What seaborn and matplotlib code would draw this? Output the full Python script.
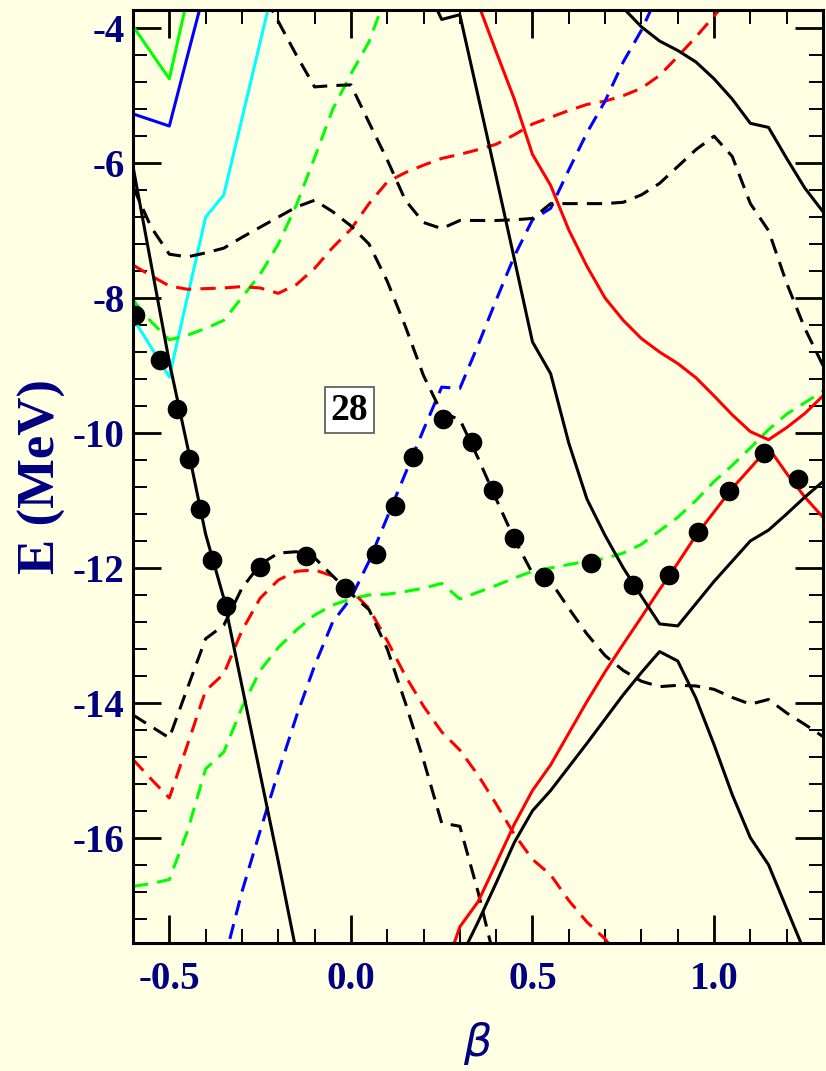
import matplotlib
matplotlib.use("Agg")
import matplotlib.pyplot as plt
import seaborn as sns
from matplotlib.ticker import MultipleLocator

# ---------------- data (beta, E in MeV) ----------------
# black solid curves
bs1_b = [-0.6, -0.55, -0.5, -0.45, -0.4, -0.35, -0.3, -0.25, -0.2, -0.15]
bs1_E = [-6.05, -7.5, -8.95, -10.2, -11.5, -12.45, -13.75, -15.05, -16.35, -17.7]

bs2_b = [0.2, 0.25, 0.3, 0.35, 0.4, 0.45, 0.5, 0.55, 0.6, 0.65, 0.7, 0.75, 0.8,
         0.85, 0.9, 0.95, 1.0, 1.05, 1.1, 1.15, 1.2, 1.25, 1.3]
bs2_E = [-3.3, -3.87, -3.8, -5.0, -6.2, -7.42, -8.65, -9.12, -10.15, -10.98, -11.52,
         -12.0, -12.42, -12.83, -12.86, -12.53, -12.2, -11.9, -11.6, -11.44, -11.2,
         -10.95, -10.72]

bs3_b = [0.7, 0.75, 0.8, 0.85, 0.9, 0.95, 1.0, 1.05, 1.1, 1.15, 1.2, 1.25, 1.3]
bs3_E = [-3.35, -3.7, -3.98, -4.19, -4.33, -4.5, -4.75, -5.05, -5.41, -5.47, -5.93,
         -6.37, -6.72]

bs4_b = [0.3, 0.35, 0.4, 0.45, 0.5, 0.55, 0.6, 0.65, 0.7, 0.75, 0.8, 0.85, 0.9,
         0.95, 1.0, 1.05, 1.1, 1.15, 1.2, 1.25]
bs4_E = [-17.8, -17.25, -16.67, -16.07, -15.6, -15.3, -14.95, -14.6, -14.24, -13.88,
         -13.55, -13.24, -13.38, -13.93, -14.62, -15.36, -16.0, -16.4, -17.05, -17.7]

# black dashed curves
bd1_b = [-0.25, -0.2, -0.15, -0.1, -0.05, 0.0, 0.05, 0.1, 0.15, 0.2, 0.25, 0.3, 0.35,
         0.4, 0.45, 0.5, 0.55, 0.6, 0.65, 0.7, 0.75, 0.8, 0.85, 0.9, 0.95, 1.0, 1.05,
         1.1, 1.15, 1.2, 1.25, 1.3]
bd1_E = [-3.4, -3.9, -4.4, -4.87, -4.85, -4.84, -5.4, -5.95, -6.55, -6.88, -6.97,
         -6.85, -6.85, -6.85, -6.84, -6.82, -6.6, -6.6, -6.6, -6.6, -6.58, -6.47, -6.3,
         -6.05, -5.8, -5.6, -5.9, -6.6, -7.0, -7.78, -8.45, -9.0]

bd2_b = [-0.6, -0.55, -0.5, -0.45, -0.4, -0.35, -0.3, -0.25, -0.2, -0.15, -0.1, -0.05,
         0.0, 0.05, 0.1, 0.15, 0.2, 0.25, 0.3, 0.35, 0.4, 0.45, 0.5, 0.55, 0.6, 0.65,
         0.7, 0.75, 0.8, 0.85, 0.9, 0.95, 1.0, 1.05, 1.1, 1.15, 1.2, 1.25, 1.3]
bd2_E = [-6.35, -6.95, -7.35, -7.39, -7.33, -7.26, -7.1, -6.95, -6.8, -6.65, -6.55,
         -6.72, -6.93, -7.2, -7.75, -8.42, -9.15, -9.7, -9.8, -10.37, -10.98, -11.57,
         -12.08, -12.2, -12.6, -12.98, -13.3, -13.52, -13.68, -13.76, -13.74, -13.75,
         -13.8, -13.92, -14.02, -13.95, -14.15, -14.32, -14.5]

bd3_b = [-0.6, -0.55, -0.5, -0.45, -0.4, -0.35, -0.3, -0.25, -0.2, -0.15, -0.1, -0.05,
         0.0, 0.05, 0.1, 0.15, 0.2, 0.25, 0.3, 0.35, 0.4]
bd3_E = [-14.18, -14.35, -14.52, -13.78, -13.05, -12.85, -12.3, -11.95, -11.78, -11.76,
         -11.85, -12.12, -12.38, -12.62, -13.2, -14.0, -14.85, -15.78, -15.83, -16.8,
         -17.9]

# red solid curves
rs1_b = [0.3, 0.35, 0.4, 0.45, 0.5, 0.55, 0.6, 0.65, 0.7, 0.75, 0.8, 0.85, 0.9, 0.95,
         1.0, 1.05, 1.1, 1.15, 1.2, 1.25, 1.3]
rs1_E = [-2.9, -3.63, -4.35, -5.05, -5.87, -6.33, -6.99, -7.53, -8.0, -8.33, -8.6, -8.8,
         -8.97, -9.18, -9.45, -9.73, -9.98, -10.1, -9.92, -9.71, -9.45]

rs2_b = [0.25, 0.3, 0.35, 0.4, 0.45, 0.5, 0.55, 0.6, 0.65, 0.7, 0.75, 0.8, 0.85, 0.9,
         0.95, 1.0, 1.05, 1.1, 1.15, 1.2, 1.25, 1.3]
rs2_E = [-18.1, -17.32, -16.95, -16.38, -15.8, -15.3, -14.92, -14.45, -13.98, -13.54,
         -13.13, -12.73, -12.32, -11.93, -11.52, -11.17, -10.82, -10.52, -10.22, -10.6,
         -10.95, -11.25]

# red dashed curves
rd1_b = [-0.6, -0.55, -0.5, -0.45, -0.4, -0.35, -0.3, -0.25, -0.2, -0.15, -0.1, -0.05,
         0.0, 0.05, 0.1, 0.15, 0.2, 0.25, 0.3, 0.35, 0.4, 0.45, 0.5, 0.55, 0.6, 0.65,
         0.7, 0.75, 0.8, 0.85, 0.9, 0.95, 1.0, 1.05]
rd1_E = [-7.51, -7.67, -7.82, -7.87, -7.86, -7.85, -7.83, -7.85, -7.93, -7.8, -7.56,
         -7.25, -6.98, -6.6, -6.28, -6.14, -6.03, -5.93, -5.87, -5.8, -5.72, -5.58,
         -5.42, -5.32, -5.22, -5.13, -5.08, -5.0, -4.89, -4.7, -4.42, -4.13, -3.82, -3.5]

rd2_b = [-0.6, -0.55, -0.5, -0.45, -0.4, -0.35, -0.3, -0.25, -0.2, -0.15, -0.1, -0.05,
         0.0, 0.05, 0.1, 0.15, 0.2, 0.25, 0.3, 0.35, 0.4, 0.45, 0.5, 0.55, 0.6, 0.65,
         0.7, 0.75]
rd2_E = [-14.84, -15.13, -15.41, -14.62, -13.82, -13.57, -12.93, -12.45, -12.18, -12.05,
         -12.03, -12.12, -12.33, -12.6, -13.08, -13.6, -14.05, -14.43, -14.7, -15.07,
         -15.5, -15.95, -16.32, -16.55, -16.93, -17.25, -17.5, -17.85]

# green dashed curves
gd1_b = [-0.6, -0.55, -0.5, -0.45, -0.4, -0.35, -0.3, -0.25, -0.2, -0.15, -0.1, -0.05,
         0.0, 0.05, 0.1]
gd1_E = [-8.03, -8.35, -8.62, -8.55, -8.45, -8.33, -7.99, -7.65, -7.2, -6.62, -5.92,
         -5.2, -4.68, -4.2, -3.47]

gd2_b = [-0.6, -0.55, -0.5, -0.45, -0.4, -0.35, -0.3, -0.25, -0.2, -0.15, -0.1, -0.05,
         0.0, 0.05, 0.1, 0.15, 0.2, 0.25, 0.3, 0.35, 0.4, 0.45, 0.5, 0.55, 0.6, 0.65,
         0.7, 0.75, 0.8, 0.85, 0.9, 0.95, 1.0, 1.05, 1.1, 1.15, 1.2, 1.25, 1.3]
gd2_E = [-16.72, -16.68, -16.62, -15.9, -14.98, -14.73, -14.07, -13.52, -13.18, -12.92,
         -12.7, -12.55, -12.46, -12.4, -12.39, -12.35, -12.3, -12.23, -12.46, -12.36,
         -12.26, -12.15, -12.05, -12.0, -11.95, -11.9, -11.86, -11.78, -11.65, -11.45,
         -11.25, -11.0, -10.72, -10.48, -10.22, -9.95, -9.72, -9.55, -9.38]

# blue dashed curve
bl_b = [-0.35, -0.3, -0.25, -0.2, -0.15, -0.1, -0.05, 0.0, 0.05, 0.1, 0.15, 0.2, 0.25,
        0.3, 0.35, 0.4, 0.45, 0.5, 0.55, 0.6, 0.65, 0.7, 0.75, 0.8, 0.85]
bl_E = [-17.85, -16.8, -15.9, -15.03, -14.2, -13.45, -12.8, -12.45, -11.9, -11.25, -10.6,
        -9.95, -9.32, -9.34, -8.7, -8.03, -7.38, -6.84, -6.67, -6.1, -5.55, -5.08, -4.5,
        -4.03, -3.45]

# upper-left solid curves
gs_b = [-0.6, -0.5, -0.45]
gs_E = [-3.97, -4.75, -3.55]
bls_b = [-0.6, -0.5, -0.45, -0.4]
bls_E = [-5.27, -5.45, -4.41, -3.38]
cy_b = [-0.6, -0.55, -0.5, -0.45, -0.4, -0.35, -0.3, -0.25, -0.2]
cy_E = [-8.3, -8.73, -9.17, -7.98, -6.8, -6.47, -5.34, -4.21, -3.08]

# occupied-level dots
dot_b = [-0.594, -0.526, -0.478, -0.446, -0.416, -0.382, -0.345, -0.249, -0.123, -0.015,
         0.070, 0.122, 0.171, 0.254, 0.334, 0.391, 0.449, 0.533, 0.662, 0.778, 0.876,
         0.957, 1.042, 1.138, 1.232]
dot_E = [-8.25, -8.92, -9.65, -10.39, -11.13, -11.88, -12.56, -11.99, -11.83, -12.30,
         -11.80, -11.08, -10.35, -9.80, -10.14, -10.85, -11.56, -12.13, -11.92, -12.25,
         -12.11, -11.47, -10.86, -10.29, -10.68]

label_text = "28"
x_ticks = [-0.5, 0.0, 0.5, 1.0]
y_ticks = [-16, -14, -12, -10, -8, -6, -4]

# ---------------- figure ----------------
sns.set_theme(style="ticks")
plt.rcParams['font.family'] = ['Liberation Serif', 'DejaVu Serif']
plt.rcParams['axes.unicode_minus'] = False

BG = '#FFFFE4'
NAVY = '#000080'
fig = plt.figure(figsize=(8.26, 10.71), dpi=100, facecolor=BG)
ax = fig.add_axes([133 / 826, 1 - 943 / 1071, (823 - 133) / 826, (943 - 10) / 1071])
ax.set_facecolor(BG)

LW = 2.2
DASH = (0, (5, 3))
curves = [
    (gs_b, gs_E, '#00FF00', '-'),
    (bls_b, bls_E, '#0000FF', '-'),
    (cy_b, cy_E, '#00FFFF', '-'),
    (gd1_b, gd1_E, '#00FF00', DASH),
    (gd2_b, gd2_E, '#00FF00', DASH),
    (rd1_b, rd1_E, '#FF0000', DASH),
    (rd2_b, rd2_E, '#FF0000', DASH),
    (bl_b, bl_E, '#0000FF', DASH),
    (bd1_b, bd1_E, 'black', DASH),
    (bd2_b, bd2_E, 'black', DASH),
    (bd3_b, bd3_E, 'black', DASH),
    (rs1_b, rs1_E, '#FF0000', '-'),
    (rs2_b, rs2_E, '#FF0000', '-'),
    (bs1_b, bs1_E, 'black', '-'),
    (bs2_b, bs2_E, 'black', '-'),
    (bs3_b, bs3_E, 'black', '-'),
    (bs4_b, bs4_E, 'black', '-'),
]
for b, e, c, ls in curves:
    sns.lineplot(x=b, y=e, ax=ax, color=c, linewidth=LW, linestyle=ls,
                 sort=False, estimator=None)

sns.scatterplot(x=dot_b, y=dot_E, ax=ax, color='black', s=200, edgecolor='black',
                linewidth=0, zorder=5)

ax.set_xlim(-0.6, 1.3)
ax.set_ylim(-17.56, -3.73)
ax.set_xticks(x_ticks)
ax.set_yticks(y_ticks)
ax.xaxis.set_minor_locator(MultipleLocator(0.1))
ax.yaxis.set_minor_locator(MultipleLocator(0.4))

for sp in ax.spines.values():
    sp.set_linewidth(2.2)
    sp.set_color('black')

ax.tick_params(which='major', direction='in', length=20, width=2.0, top=True, right=True,
               labelsize=28, labelcolor=NAVY, color='black')
ax.tick_params(axis='x', which='major', pad=13)
ax.tick_params(axis='y', which='major', pad=6)
ax.tick_params(which='minor', direction='in', length=10, width=1.4, top=True, right=True,
               color='black')
for lab in ax.get_xticklabels() + ax.get_yticklabels():
    lab.set_fontweight('bold')

ax.set_ylabel('E (MeV)', fontsize=38, fontweight='bold', color=NAVY)
ax.yaxis.set_label_coords(-0.097, 0.5)
ax.set_xlabel(r'$\beta$', fontsize=32, color=NAVY)
ax.xaxis.set_label_coords(0.5, -0.083)

ax.text(-0.004, -9.66, label_text, ha='center', va='center', fontsize=27,
        fontweight='bold', color='black', zorder=6,
        bbox=dict(boxstyle='square,pad=0.15', fc='white', ec='#555555', lw=1.2))

fig.savefig('out.png', dpi=100, facecolor=BG)
